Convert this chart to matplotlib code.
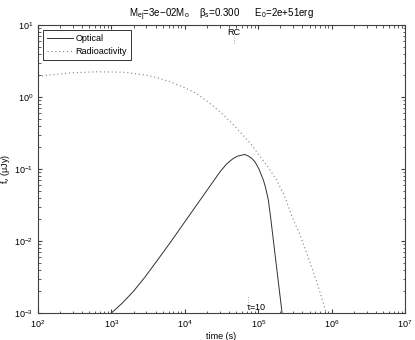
import matplotlib
matplotlib.use('Agg')
import matplotlib.pyplot as plt

plt.rcParams['font.family'] = ['Liberation Sans', 'DejaVu Sans']
plt.rcParams['mathtext.fontset'] = 'custom'
plt.rcParams['mathtext.rm'] = 'Liberation Sans'
plt.rcParams['mathtext.it'] = 'Liberation Sans'

# optical light curve
t_opt = [1000, 1413, 1995, 2818, 4140, 6310, 9550, 13180, 17860, 23990,
         30200, 37150, 45710, 52480, 62660, 66070, 73280, 81280, 90360, 102300,
         117500, 125900, 137400, 147900, 152800, 173800, 208900, 211300]
f_opt = [0.00100, 0.00138, 0.00200, 0.00309, 0.00525, 0.00948, 0.0173, 0.0276, 0.0429, 0.0658,
         0.0918, 0.118, 0.1406, 0.1514, 0.1581, 0.1592, 0.1517, 0.1413, 0.1262, 0.100,
         0.0703, 0.0552, 0.0372, 0.0209, 0.0158, 0.00525, 0.0011, 0.0010]

# radioactivity curve
t_rad = [100, 275, 630, 1450, 3020, 4370, 6310, 9550, 14500, 20900,
         30200, 41700, 56200, 79400, 107000, 138000, 178000, 229000, 289000, 372000,
         513000, 661000, 832000]
f_rad = [1.95, 2.17, 2.25, 2.22, 2.02, 1.84, 1.63, 1.38, 1.12, 0.85,
         0.625, 0.457, 0.33, 0.224, 0.148, 0.105, 0.070, 0.042, 0.0217, 0.0121,
         0.0049, 0.0023, 0.00105]

t_rc = 4.7e4
t_tau = 7.2e4

fig = plt.figure(figsize=(4.15, 3.4), dpi=100)
ax = fig.add_axes([0.0916, 0.0794, 0.8844, 0.8466])

ax.plot(t_opt, f_opt, color='#303030', lw=0.7, label='Optical')
ax.plot(t_rad, f_rad, color='#808080', lw=0.8, ls=(0, (1, 2.5)), label='Radioactivity')

# markers
ax.plot([t_rc, t_rc], [5.6, 7.3], color='#909090', lw=0.6, ls=(0, (1, 2)))
ax.text(t_rc, 9.2, 'RC', fontsize=6.5, ha='center', va='top')
ax.plot([t_tau, t_tau], [1.29e-3, 1.8e-3], color='#909090', lw=0.6, ls=(0, (1, 2)))
ax.text(t_tau * 0.95, 1.04e-3, r'$\tau$=10', fontsize=6.5, ha='left', va='bottom')

ax.set_xscale('log')
ax.set_yscale('log')
ax.set_xlim(1e2, 1e7)
ax.set_ylim(1e-3, 1e1)

ax.tick_params(which='both', direction='in', top=True, right=True, labelsize=6.5,
               color='#404040')
ax.tick_params(which='major', length=3)
ax.tick_params(which='minor', length=1.8)
for s in ax.spines.values():
    s.set_color('#404040')
    s.set_linewidth(0.8)

ax.set_xlabel('time (s)', fontsize=6.5, labelpad=2)
ax.set_ylabel(r'f$_\nu$ ($\mu$Jy)', fontsize=6.5)
ax.yaxis.set_label_coords(-0.072, 0.5)
ax.set_title(r'M$_{ej}$=3e$-$02M$_o$    $\beta_s$=0.300      E$_0$=2e+51erg',
             fontsize=7, pad=6)

leg = ax.legend(loc='upper left', fontsize=6.5, frameon=True, fancybox=False,
                borderpad=0.45, labelspacing=0.45, handlelength=2.9,
                handletextpad=0.25, borderaxespad=0.55)
leg.get_frame().set_edgecolor('black')
leg.get_frame().set_linewidth(0.7)

fig.savefig('out.png', dpi=100)
